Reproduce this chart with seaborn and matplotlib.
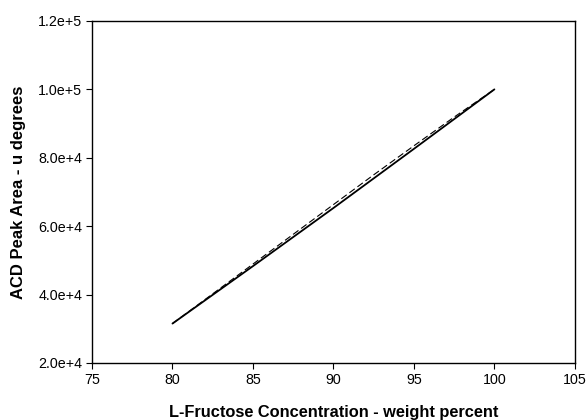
import matplotlib
matplotlib.use("Agg")
import matplotlib.pyplot as plt
import seaborn as sns
import pandas as pd
from matplotlib.ticker import FuncFormatter

# measured calibration (solid) and fitted curve (dashed)
conc = [80, 85, 90, 95, 100]
peak_area = [31500, 48300, 65300, 82600, 100000]
fit_conc = [80, 82.5, 85, 87.5, 90, 92.5, 95, 97.5, 100]
fit_area = [31500, 40200, 48900, 57600, 66300, 75000, 83500, 91900, 100000]

x_ticks = [75, 80, 85, 90, 95, 100, 105]
y_ticks = [20000, 40000, 60000, 80000, 100000, 120000]

sns.set_theme(style="ticks")
plt.rcParams['font.family'] = ['Liberation Sans', 'DejaVu Sans']

fig = plt.figure(figsize=(5.86, 4.2), dpi=100)
ax = fig.add_axes([0.157, 0.136, 0.824, 0.814])

data = pd.DataFrame({'conc': conc, 'area': peak_area})
fit = pd.DataFrame({'conc': fit_conc, 'area': fit_area})
sns.lineplot(data=data, x='conc', y='area', ax=ax, color='black', linewidth=1.3)
sns.lineplot(data=fit, x='conc', y='area', ax=ax, color='black', linewidth=0.8,
             linestyle=(0, (6, 3)))

ax.set_xlim(75, 105)
ax.set_ylim(20000, 120000)
ax.set_xticks(x_ticks)
ax.set_yticks(y_ticks)

def sci(v, pos):
    m = v / 10 ** len(str(int(v))[1:])
    return f"{m:.1f}e+{len(str(int(v))) - 1}"

ax.yaxis.set_major_formatter(FuncFormatter(sci))
ax.tick_params(direction='out', length=4, width=0.8, colors='black',
               labelcolor='black', labelsize=10.3, pad=3)

for s in ax.spines.values():
    s.set_visible(True)
    s.set_color('black')
    s.set_linewidth(1.0)

ax.set_xlabel('L-Fructose Concentration - weight percent', fontsize=11.8,
              fontweight='bold', color='black', labelpad=13)
ax.set_ylabel('ACD Peak Area - u degrees', fontsize=12,
              fontweight='bold', color='black', labelpad=9)

fig.savefig('out.png', dpi=100)
